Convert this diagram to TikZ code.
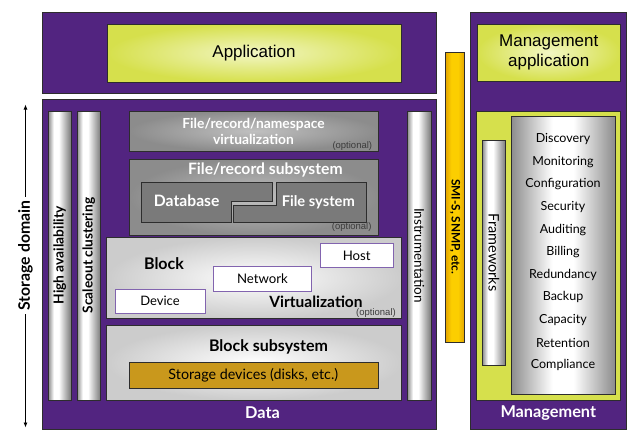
\documentclass[tikz,border=0pt]{standalone}
\usepackage{fontspec}
\setmainfont{Lato}
\newfontfamily\arialf{Liberation Sans}
\usetikzlibrary{fit,arrows.meta}
\definecolor{purp}{RGB}{82,36,128}
\definecolor{limec}{RGB}{214,224,76}
\definecolor{limelight}{RGB}{242,246,196}
\definecolor{edgec}{RGB}{45,45,45}
\definecolor{bargray}{RGB}{140,140,140}
\definecolor{bardark}{RGB}{120,120,120}
\definecolor{midgray}{RGB}{140,140,140}
\definecolor{lightgray2}{RGB}{192,192,192}
\definecolor{dbgray}{RGB}{122,122,122}
\definecolor{blockgray}{RGB}{204,204,204}
\definecolor{goldc}{RGB}{201,152,28}
\definecolor{ybar}{RGB}{252,206,0}
\definecolor{ybardark}{RGB}{228,166,0}
\definecolor{smallpurp}{RGB}{130,100,175}
\definecolor{optc}{RGB}{60,60,60}
\pgfdeclarehorizontalshading{barshade}{100bp}{color(0bp)=(bargray); color(25bp)=(bargray); color(37bp)=(white); color(48bp)=(white); color(75bp)=(bardark); color(100bp)=(bardark)}
\pgfdeclarehorizontalshading{listshade}{100bp}{color(0bp)=(bargray); color(25bp)=(bargray); color(45bp)=(white); color(55bp)=(white); color(75bp)=(bargray); color(100bp)=(bargray)}
\pgfdeclarehorizontalshading{yshade}{100bp}{color(0bp)=(ybardark); color(25bp)=(ybardark); color(40bp)=(ybar); color(58bp)=(ybar); color(75bp)=(ybardark); color(100bp)=(ybardark)}
\tikzset{
  box/.style={draw=edgec, line width=0.7pt, inner sep=0pt, outer sep=0pt},
  purpbox/.style={box, fill=purp},
  limebox/.style={box, inner color=limelight, outer color=limec},
  barbox/.style={box, shading=barshade},
  listbox/.style={box, shading=listshade},
  greybox/.style={box, inner color=lightgray2, outer color=midgray},
  lightbox/.style={box, inner color=white, outer color=blockgray},
  smallbox/.style={draw=smallpurp, line width=1pt, fill=white, inner sep=0pt},
  wb/.style={text=white, font=\bfseries\fontsize{15.7}{17}\selectfont, inner sep=0pt},
  bb/.style={text=black, font=\bfseries\fontsize{16}{17}\selectfont, inner sep=0pt},
  reg/.style={text=black, font=\fontsize{12.5}{14}\selectfont, inner sep=0pt},
  opt/.style={text=optc, font=\arialf\fontsize{9.5}{10}\selectfont, inner sep=0pt},
  arr/.style={line width=0.8pt, -{Latex[length=5pt,width=4pt]}},
}
\begin{document}
\begin{tikzpicture}[x=1pt,y=-1pt]
\useasboundingbox (0,0) rectangle (640,447);
% top application
\node[purpbox, fit={(42.5,12.5) (436,93)}] (top) {};
\node[limebox, fit={(107,24) (401,82)}] (app) {};
\node[font=\arialf\fontsize{17}{20}\selectfont] at (app) {Application};
% management column
\node[purpbox, fit={(470.7,12.5) (626.7,429)}] (mgmt) {};
\node[limebox, fit={(477,24) (620.5,81)}] (mgmtapp) {};
\node[font=\arialf\fontsize{17}{20}\selectfont, align=center] at (mgmtapp) {Management\\application};
\node[box, inner color=limec!75!white, outer color=limec, fit={(476.7,111.7) (620.7,400)}] (mlime) {};
\node[barbox, fit={(482.3,140) (505.7,365)}] (fw) {};
\node[reg, font=\fontsize{14.5}{16}\selectfont, rotate=-90] at (494,252.5) {Frameworks};
\node[listbox, fit={(511,116.7) (615,394.3)}] (list) {};
\foreach \t/\y [count=\i] in {Discovery/139,Monitoring/161.7,Configuration/184.3,Security/207,Auditing/229.7,Billing/252.3,Redundancy/275,Backup/297.3,Capacity/320,Retention/342.7,Compliance/365.3}
  \node[reg] (li\i) at (563,\y) {\t};
\node[wb, font=\bfseries\fontsize{16.3}{18}\selectfont] (mgmtlbl) at (548.3,412.7) {Management};
% yellow bar
\node[box, shading=yshade, fit={(445.7,52.7) (464.3,342.3)}] (ybar) {};
\node[text=black, font=\bfseries\fontsize{11.8}{13}\selectfont, inner sep=0pt, rotate=-90] (smis) at (455,226.7) {SMI-S, SNMP, etc.};
% data box
\node[purpbox, fit={(42.7,99) (436,429)}] (data) {};
\node[barbox, fit={(48.3,111) (71,400)}] (ha) {};
\node[bb, font=\bfseries\fontsize{13.8}{15}\selectfont, rotate=90] at (59.7,255.5) {High availability};
\node[barbox, fit={(77,111) (100.7,400)}] (sc) {};
\node[bb, font=\bfseries\fontsize{13.7}{15}\selectfont, rotate=90] at (88.8,255.5) {Scaleout clustering};
\node[barbox, fit={(407.3,111) (431,400)}] (instr) {};
\node[reg, font=\fontsize{13.5}{15}\selectfont, rotate=-90] at (419.2,255.5) {Instrumentation};
% namespace virtualization
\node[greybox, fit={(129.3,111) (378.3,151)}] (nsv) {};
\node[wb, font=\bfseries\fontsize{13.8}{16}\selectfont, align=center] at (253.5,131.3) {File/record/namespace\\virtualization};
\node[opt] at (352.3,145.7) {(optional)};
% file/record subsystem
\node[greybox, fit={(129.3,159) (378.3,235)}] (frs) {};
\node[wb] at (265.3,170) {File/record subsystem};
\draw[box, fill=dbgray] (141,182.3) -- (272.7,182.3) -- (272.7,201.7) -- (231,201.7) -- (231,222.7) -- (141,222.7) -- cycle;
\draw[box, fill=dbgray] (276.7,182.3) -- (366.3,182.3) -- (366.3,222.7) -- (233.7,222.7) -- (233.7,205.7) -- (276.7,205.7) -- cycle;
\node[wb] (db) at (186.7,200.7) {Database};
\node[wb, font=\bfseries\fontsize{14.7}{16}\selectfont] (fs) at (318.3,202.7) {File system};
\node[opt] at (351.7,227.3) {(optional)};
% block virtualization
\node[lightbox, fit={(106.7,237.7) (401.7,318.7)}] (bv) {};
\node[bb] at (164,263.3) {Block};
\node[bb, font=\bfseries\fontsize{15.5}{17}\selectfont] at (316,302) {Virtualization};
\node[opt] at (376,313.3) {(optional)};
\node[smallbox, fit={(320,243.3) (393.3,267.7)}] (host) {};
\node[reg, font=\fontsize{13.2}{15}\selectfont] at (host) {Host};
\node[smallbox, fit={(213.3,266.7) (311.7,291)}] (net) {};
\node[reg, font=\fontsize{13.2}{15}\selectfont] at (net) {Network};
\node[smallbox, fit={(115,289) (205,313.3)}] (dev) {};
\node[reg, font=\fontsize{13}{15}\selectfont] at (dev) {Device};
% block subsystem
\node[lightbox, fit={(106.7,325) (401.7,400)}] (bs) {};
\node[bb] at (268.5,347.3) {Block subsystem};
\node[box, fill=goldc, fit={(129.3,362.3) (378.3,388.3)}] (sd) {};
\node[reg, font=\fontsize{14.3}{16}\selectfont] at (253.3,375.3) {Storage devices (disks, etc.)};
\node[wb, font=\bfseries\fontsize{16.3}{18}\selectfont] (datalbl) at (262.5,412.7) {Data};
% storage domain arrow
\node[bb, font=\bfseries\fontsize{15.8}{17}\selectfont, rotate=90, outer sep=4pt] (dom) at (25.5,255.5) {Storage domain};
\coordinate (domtop) at (25.5,104.5);
\coordinate (dombot) at (25.5,427.5);
\draw[arr] (dom.east) -- (domtop);
\draw[arr] (dom.west) -- (dombot);
\end{tikzpicture}
\end{document}
